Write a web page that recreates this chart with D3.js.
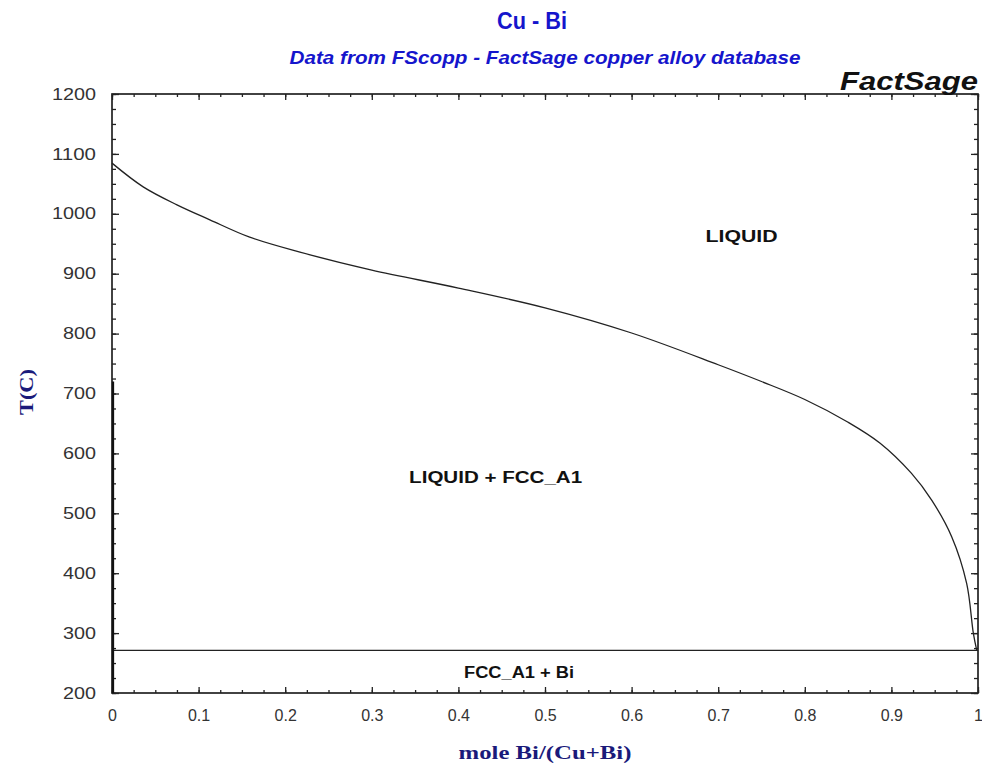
<!DOCTYPE html>
<html>
<head>
<meta charset="utf-8">
<script src="https://cdn.jsdelivr.net/npm/d3@7"></script>
<style>
  html, body { margin: 0; padding: 0; background: #fff; }
  svg { display: block; }
</style>
</head>
<body>
<svg id="chart" width="982" height="766"></svg>
<script>
// Cu-Bi phase diagram: liquidus, Bi eutectic line and Cu-side solvus
const liquidusX = [0, 0.036, 0.075, 0.113, 0.159, 0.217, 0.3, 0.4, 0.5, 0.6, 0.7, 0.75, 0.8, 0.85, 0.887, 0.923, 0.9465, 0.9696, 0.9869, 0.9946, 0.9985];
const liquidusT = [1084.6, 1045, 1015, 990, 961, 936, 906, 876, 843, 801, 748, 720, 690, 652, 617, 567, 522, 461, 383, 300, 271.4];
const eutecticX = [0, 1];
const eutecticT = [271, 271];
const solvusX = [0.0012, 0.0012];
const solvusT = [200, 720];

const xTicks = [0, 0.1, 0.2, 0.3, 0.4, 0.5, 0.6, 0.7, 0.8, 0.9, 1];
const xTickLabels = ["0", "0.1", "0.2", "0.3", "0.4", "0.5", "0.6", "0.7", "0.8", "0.9", "1"];
const yTicks = [200, 300, 400, 500, 600, 700, 800, 900, 1000, 1100, 1200];

const phaseNames = ["LIQUID", "LIQUID + FCC_A1", "FCC_A1 + Bi"];
const phaseX = [0.727, 0.443, 0.47];
const phaseT = [960, 557, 232];

const svg = d3.select("#chart");
const plotLeft = 112, plotRight = 978, plotTop = 94, plotBottom = 693;
const sans = "Arial, 'Liberation Sans', sans-serif";
const serif = "'Times New Roman', 'Liberation Serif', serif";

const x = d3.scaleLinear().domain([0, 1]).range([plotLeft, plotRight]);
const y = d3.scaleLinear().domain([200, 1200]).range([plotBottom, plotTop]);

const minorX = d3.range(0, 1.0001, 0.025);
const minorY = d3.range(200, 1200.01, 25);

// frame
svg.append("rect")
  .attr("x", plotLeft).attr("y", plotTop)
  .attr("width", plotRight - plotLeft).attr("height", plotBottom - plotTop)
  .attr("fill", "none").attr("stroke", "#222").attr("stroke-width", 1.7);

function tickGroup(axis, transform) {
  const g = svg.append("g").attr("transform", transform).call(axis);
  g.select(".domain").remove();
  g.selectAll(".tick line").attr("stroke", "#222").attr("stroke-width", 1.3);
  return g;
}

// minor ticks (all four sides, pointing inward)
tickGroup(d3.axisBottom(x).tickValues(minorX).tickSize(-3).tickFormat(""), `translate(0,${plotBottom})`);
tickGroup(d3.axisTop(x).tickValues(minorX).tickSize(-3).tickFormat(""), `translate(0,${plotTop})`);
tickGroup(d3.axisLeft(y).tickValues(minorY).tickSize(-4).tickFormat(""), `translate(${plotLeft},0)`);
tickGroup(d3.axisRight(y).tickValues(minorY).tickSize(-4).tickFormat(""), `translate(${plotRight},0)`);

// major ticks with labels
const xb = tickGroup(d3.axisBottom(x).tickValues(xTicks).tickSize(-6)
  .tickFormat((d, i) => xTickLabels[i]).tickPadding(17), `translate(0,${plotBottom})`);
xb.selectAll("text")
  .attr("font-family", sans).attr("font-size", 16).attr("fill", "#333");
tickGroup(d3.axisTop(x).tickValues(xTicks).tickSize(-6).tickFormat(""), `translate(0,${plotTop})`);
const yl = tickGroup(d3.axisLeft(y).tickValues(yTicks).tickSize(-7)
  .tickFormat(d3.format("d")).tickPadding(16), `translate(${plotLeft},0)`);
yl.selectAll("text")
  .attr("font-family", sans).attr("font-size", 16).attr("fill", "#333")
  .attr("textLength", d => String(d).length * 11)
  .attr("lengthAdjust", "spacingAndGlyphs");
tickGroup(d3.axisRight(y).tickValues(yTicks).tickSize(-7).tickFormat(""), `translate(${plotRight},0)`);

// phase boundaries
const liquidusLine = d3.line().x(d => x(d[0])).y(d => y(d[1])).curve(d3.curveCatmullRom.alpha(0.5));
const straightLine = d3.line().x(d => x(d[0])).y(d => y(d[1]));
svg.append("path")
  .datum(liquidusX.map((v, i) => [v, liquidusT[i]]))
  .attr("d", liquidusLine)
  .attr("fill", "none").attr("stroke", "#222").attr("stroke-width", 1.3);
svg.append("path")
  .datum(eutecticX.map((v, i) => [v, eutecticT[i]]))
  .attr("d", straightLine)
  .attr("fill", "none").attr("stroke", "#222").attr("stroke-width", 1.3);
svg.append("path")
  .datum(solvusX.map((v, i) => [v, solvusT[i]]))
  .attr("d", straightLine)
  .attr("fill", "none").attr("stroke", "#111").attr("stroke-width", 2.2);

// phase field labels (wide bold face)
const phaseWidths = [72, 173, 110];
svg.selectAll("text.phase").data(phaseNames).enter().append("text")
  .attr("class", "phase")
  .attr("x", (d, i) => x(phaseX[i]))
  .attr("y", (d, i) => y(phaseT[i]))
  .attr("text-anchor", "middle")
  .attr("dominant-baseline", "middle")
  .attr("font-family", sans)
  .attr("font-weight", "bold").attr("font-size", 16).attr("fill", "#111")
  .attr("textLength", (d, i) => phaseWidths[i])
  .attr("lengthAdjust", "spacingAndGlyphs")
  .text(d => d);

// titles
svg.append("text").attr("x", 532).attr("y", 29).attr("text-anchor", "middle")
  .attr("font-family", sans)
  .attr("font-weight", "bold").attr("font-size", 24).attr("fill", "#1515cc")
  .attr("textLength", 70).attr("lengthAdjust", "spacingAndGlyphs")
  .text("Cu - Bi");
svg.append("text").attr("x", 545).attr("y", 64).attr("text-anchor", "middle")
  .attr("font-family", sans)
  .attr("font-weight", "bold").attr("font-style", "italic")
  .attr("font-size", 18).attr("fill", "#1515cc")
  .attr("textLength", 511).attr("lengthAdjust", "spacingAndGlyphs")
  .text("Data from FScopp - FactSage copper alloy database");
svg.append("text").attr("x", 978).attr("y", 90).attr("text-anchor", "end")
  .attr("font-family", sans)
  .attr("font-weight", "bold").attr("font-style", "italic")
  .attr("font-size", 25).attr("fill", "#111")
  .attr("textLength", 138).attr("lengthAdjust", "spacingAndGlyphs")
  .text("FactSage");

// axis titles
svg.append("text").attr("x", 545).attr("y", 759).attr("text-anchor", "middle")
  .attr("font-family", serif)
  .attr("font-weight", "bold").attr("font-size", 19).attr("fill", "#1a1a7a")
  .attr("textLength", 173).attr("lengthAdjust", "spacingAndGlyphs")
  .text("mole Bi/(Cu+Bi)");
svg.append("text")
  .attr("transform", "translate(33,392) rotate(-90)")
  .attr("text-anchor", "middle")
  .attr("font-family", serif)
  .attr("font-weight", "bold").attr("font-size", 19).attr("fill", "#1a1a7a")
  .attr("textLength", 46).attr("lengthAdjust", "spacingAndGlyphs")
  .text("T(C)");
</script>
</body>
</html>
